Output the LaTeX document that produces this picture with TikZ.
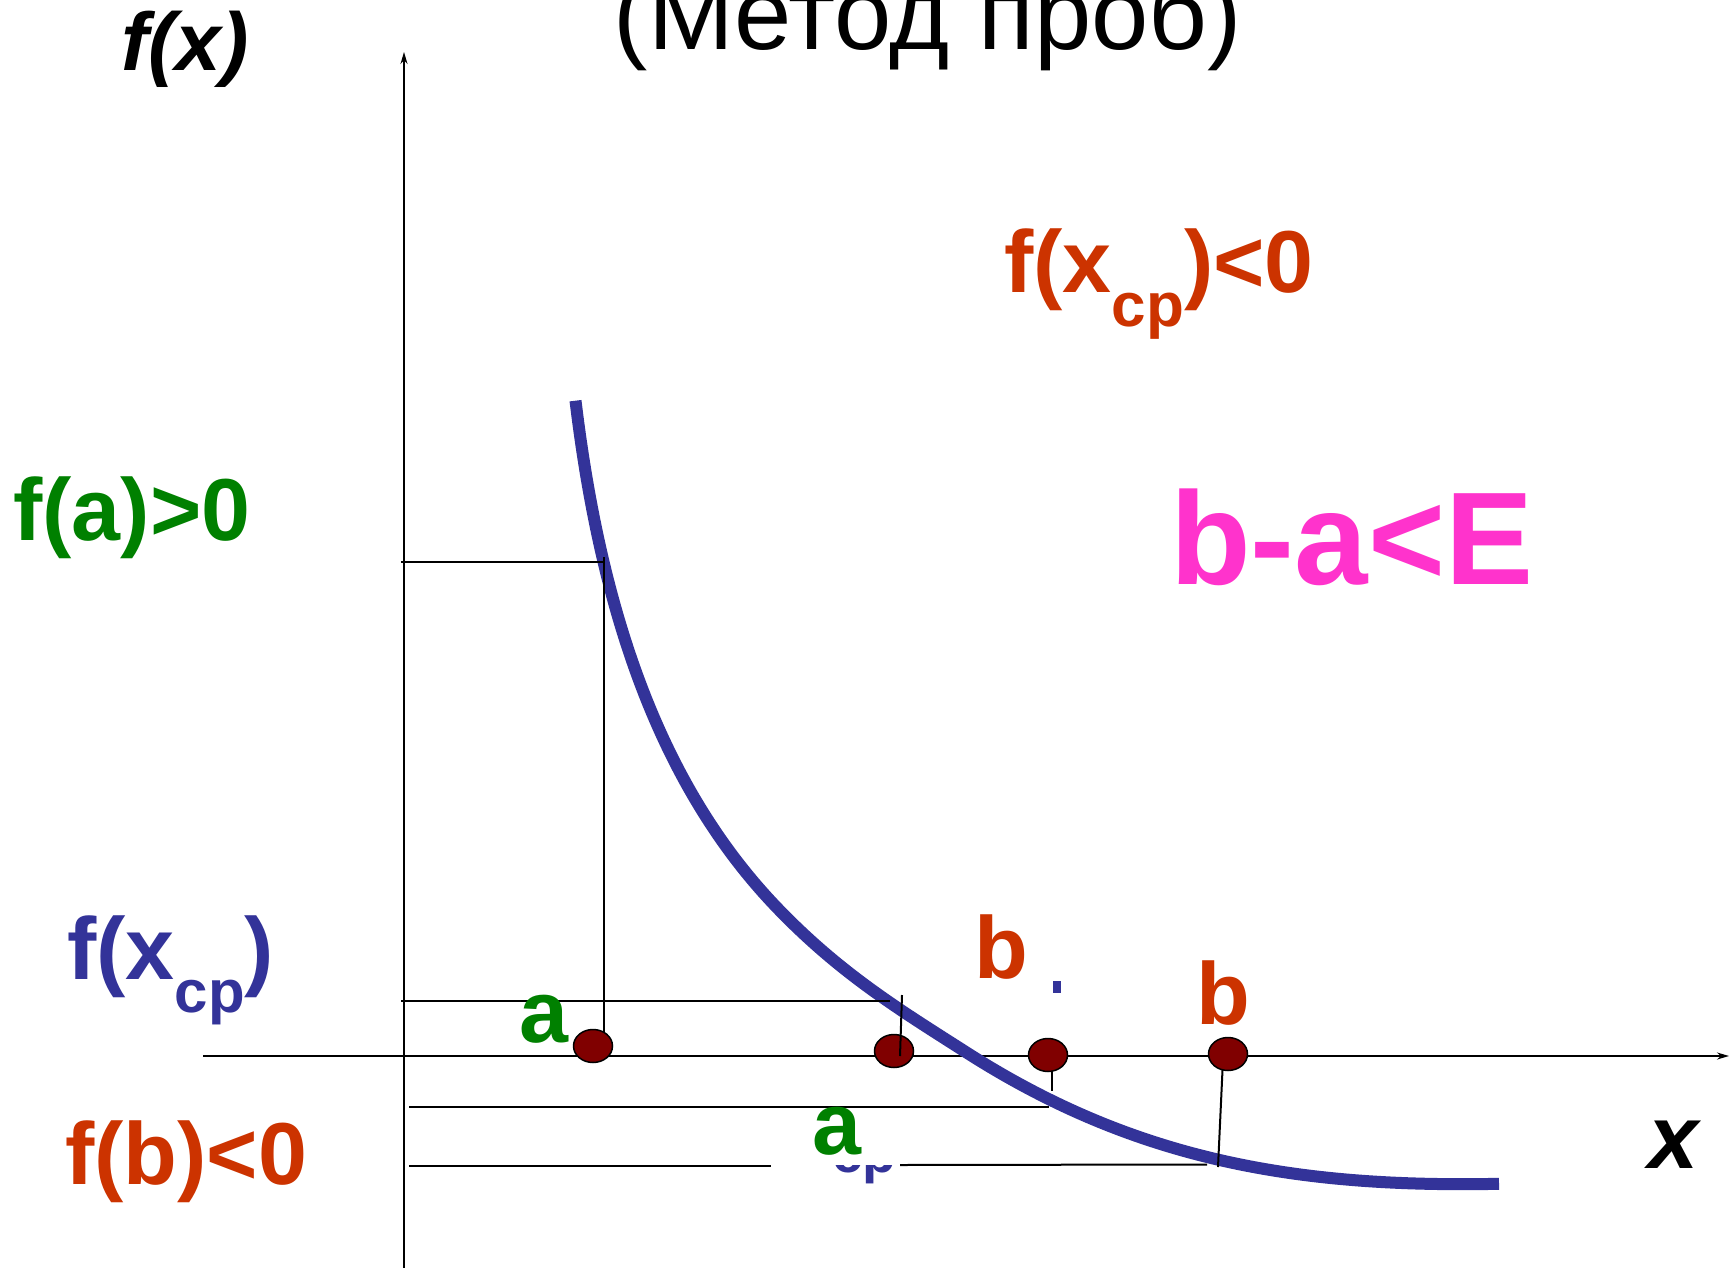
\documentclass[tikz,border=0pt]{standalone}
\usepackage{fontspec}
\setmainfont{Liberation Sans}
\usetikzlibrary{arrows.meta,shapes.geometric}
\definecolor{cgreen}{HTML}{008000}
\definecolor{cred}{HTML}{CC3300}
\definecolor{cblue}{HTML}{333399}
\definecolor{cmag}{HTML}{FF33CC}
\definecolor{cdot}{HTML}{800000}
\newcommand\setfs[1]{\fontsize{#1}{#1}\selectfont}
\newcommand\subcp[2]{\raisebox{-#2pt}{\setfs{#1}cp}}
\begin{document}
\begin{tikzpicture}[x=1pt,y=-1pt,
  lbl/.style={inner sep=0pt, anchor=base west, font={\bfseries\setfs{88}}},
  guide/.style={line width=2pt, black},
  axisline/.style={line width=1.8pt, black, -{Stealth[length=12pt,width=7pt]}},
  dotnode/.style={ellipse, draw=black, line width=1.5pt, fill=cdot, minimum width=39pt, minimum height=33pt, inner sep=0pt},
  curveline/.style={line width=12pt, cblue}]
\useasboundingbox[fill=white] (0,0) rectangle (1729,1268);
% title and axis labels
\node[inner sep=0pt, anchor=base, font={\setfs{103}}] (title) at (928,50) {(Метод проб)};
\node[lbl, font={\bfseries\itshape\setfs{82}}] (fx) at (121,71) {f(x)};
\node[lbl, font={\bfseries\itshape\setfs{90}}] (xl) at (1648,1168) {x};
% condition labels
\node[lbl, cred] (fxcpneg) at (1004,292) {f(x\subcp{62}{34})<0};
\node[lbl, cgreen] (fapos) at (13,540) {f(a)>0};
\node[lbl, cblue] (fxcp) at (67,979) {f(x\subcp{60}{33})};
\node[lbl, cred] (fbneg) at (65,1184) {f(b)<0};
\node[lbl, cmag, font={\bfseries\setfs{132}}] (bae) at (1170,584) {b-a<E};
% axes
\coordinate (ybot) at (404,1268);
\coordinate (ytop) at (404,52);
\coordinate (xleft) at (203,1056);
\coordinate (xright) at (1729,1056);
\draw[axisline] (ybot) -- (ytop);
\draw[axisline] (xleft) -- (xright);
% guide line end points
\coordinate (h1a) at (401,562);   \coordinate (h1b) at (604,562);
\coordinate (v1b) at (604,1040);
\coordinate (h2a) at (401,1001);  \coordinate (h2b) at (890,1001);
\coordinate (v2a) at (902,995);   \coordinate (v2b) at (900,1056);
\coordinate (h3a) at (409,1107);  \coordinate (h3b) at (1049,1107);
\coordinate (v3a) at (1052,1070); \coordinate (v3b) at (1052,1091);
\coordinate (h4a) at (409,1166);  \coordinate (h4b) at (771,1166);
\coordinate (h4c) at (900,1165);  \coordinate (h4d) at (1207,1164.5);
\coordinate (v4a) at (1222.5,1070); \coordinate (v4b) at (1218,1167);
% curve
\coordinate (c0) at (575.5,400.7);
\coordinate (c1) at (775.1,905.7);
\coordinate (c2) at (966.4,1052.4);
\coordinate (c3) at (1499,1183.8);
\draw[curveline] (c0) .. controls (599.5,600.7) and (655.1,779.7) .. (c1)
  .. controls (840.1,973.95) and (901.4,1010.8) .. (c2)
  .. controls (1136.4,1161.2) and (1299,1187.8) .. (c3);
% guide lines
\draw[guide] (h1a) -- (h1b);
\draw[guide] (h1b) ++(0,-5) -- (v1b);
\draw[guide] (h2a) -- (h2b);
\draw[guide] (h3a) -- (h3b);
\draw[guide] (v3a) -- (v3b);
\draw[guide] (h4a) -- (h4b);
\draw[guide] (h4c) -- (h4d);
\draw[guide] (v4a) -- (v4b);
% points
\node[dotnode] (d1) at (593,1046) {};
\node[dotnode] (d2) at (894,1051) {};
\node[dotnode] (d3) at (1048,1055) {};
\node[dotnode] (d4) at (1228,1054) {};
\draw[guide] (v2a) -- (v2b);
% point labels
\node[lbl, cgreen] (a1) at (519,1042) {a};
\node[lbl, cred] (b1) at (974,978) {b};
\node[lbl, cred] (b2) at (1196,1024) {b};
\node[lbl, cblue, font={\bfseries\setfs{55}}] (cphid) at (832,1172) {cp};
\fill[white] (771,1130) rectangle (899,1164.5);
\node[lbl, cgreen] (a2) at (812,1154) {a};
\fill[cblue] (1053,981) rectangle (1061,993);
\end{tikzpicture}
\end{document}
